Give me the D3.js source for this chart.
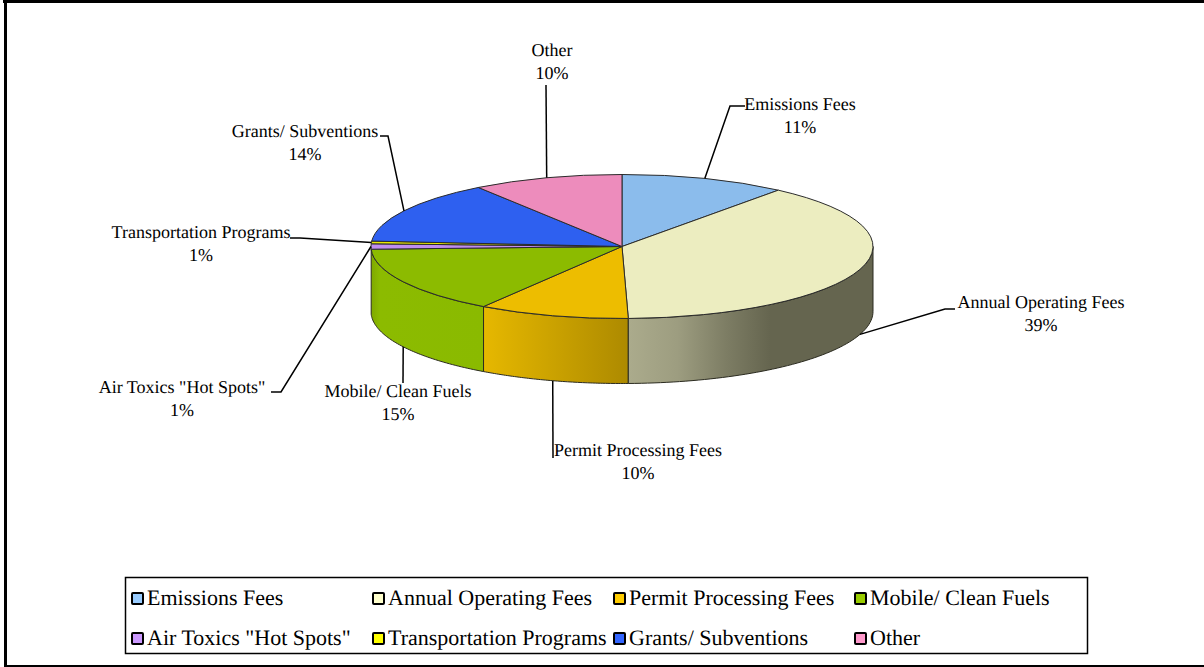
<!DOCTYPE html>
<html lang="en">

<head>
  <meta charset="UTF-8">
  <title>Revenue Sources</title>
  <script src="https://d3js.org/d3.v7.min.js"></script>
  <style type="text/css">
    html, body {
      margin: 0;
      padding: 0;
      background: white;
    }

    svg {
      display: block;
    }

    text {
      font-family: "Liberation Serif", serif;
      fill: black;
      text-rendering: geometricPrecision;
    }

    .label {
      font-size: 18px;
      text-anchor: middle;
    }

    .legend_text {
      font-size: 22px;
    }
  </style>
</head>

<body>
  <svg width="1204" height="667"></svg>
  <script type="text/javascript">
    // Data
    const categories = ["Emissions Fees", "Annual Operating Fees", "Permit Processing Fees", "Mobile/ Clean Fuels",
      "Air Toxics \"Hot Spots\"", "Transportation Programs", "Grants/ Subventions", "Other"];
    const values = [10.7, 38.9, 9.7, 15.1, 1.2, 0.6, 14.1, 9.7];
    const percentLabels = ["11%", "39%", "10%", "15%", "1%", "1%", "14%", "10%"];

    // Styles
    const topColors = ["#8bbcec", "#ecedc0", "#edbd00", "#8cbb00", "#c08ef0", "#e8e800", "#2e60f0", "#ed8cbc"];
    const legendColors = ["#99ccff", "#ffffcc", "#ffcc00", "#99cc00", "#cc99ff", "#ffff00", "#3366ff", "#ff99cc"];

    // Label layout: centre of the text, elbow of the leader, end of the leader
    const labelCenters = [[800, 104], [1041, 302], [638, 450], [398, 391], [182, 387], [201, 232], [305, 131], [552, 50]];
    const leaderEnds = [[[730, 106], [745, 106]], [[945, 309], [955, 309]], [[553, 458], [553, 458]], [[403, 383], [403, 383]],
      [[281, 392], [271, 392]], [[300, 238], [290, 238]], [[388, 136], [380, 136]], [[546, 85], [546, 85]]];

    // Pie geometry
    const cx = 622, cy = 246.5, rx = 251, ry = 72, depth = 65;

    let svg = d3.select("svg");
    let defs = svg.append("defs");

    let slices = d3.pie().value(d => d).sort(null)(values);

    const px = a => cx + rx * Math.sin(a);
    const py = a => cy - ry * Math.cos(a);

    // Chart frame: top, left and bottom edges only, the right one is cut off
    svg.append("rect").attr("x", 3).attr("y", 0).attr("width", 1201).attr("height", 3).attr("fill", "black");
    svg.append("rect").attr("x", 4).attr("y", 0).attr("width", 3).attr("height", 667).attr("fill", "black");
    svg.append("rect").attr("x", 4).attr("y", 665).attr("width", 1200).attr("height", 2).attr("fill", "black");

    // Wall gradients for the three slices that show a side
    const wallShades = {
      1: [["0%", "#abab8c"], ["20%", "#9d9d80"], ["40%", "#7d7d64"], ["58%", "#65654f"], ["100%", "#65654f"]],
      2: [["0%", "#e6b800"], ["100%", "#ad8a00"]],
      3: [["0%", "#7fa900"], ["8%", "#8cbb00"], ["100%", "#8aba00"]]
    };

    let wallArea = d3.area().x(a => px(a)).y0(a => py(a)).y1(a => py(a) + depth);

    [3, 2, 1].forEach(function (i) {
      let s = slices[i];
      let a0 = Math.max(s.startAngle, Math.PI / 2);
      let a1 = Math.min(s.endAngle, 3 * Math.PI / 2);
      let angles = d3.range(0, 61).map(k => a0 + (a1 - a0) * k / 60);

      let grad = defs.append("linearGradient")
        .attr("id", "wall" + i)
        .attr("gradientUnits", "userSpaceOnUse")
        .attr("x1", d3.min(angles, px)).attr("x2", d3.max(angles, px))
        .attr("y1", 0).attr("y2", 0);
      wallShades[i].forEach(st => grad.append("stop").attr("offset", st[0]).attr("stop-color", st[1]));

      svg.append("path")
        .attr("class", "wall")
        .attr("d", wallArea(angles))
        .attr("fill", "url(#wall" + i + ")")
        .attr("stroke", "#2b2b20")
        .attr("stroke-width", 1);
    });

    // Top of the pie
    let arc = d3.arc().innerRadius(0).outerRadius(rx);
    svg.append("g")
      .attr("transform", "translate(" + cx + "," + cy + ") scale(1," + (ry / rx) + ")")
      .selectAll("path")
      .data(slices)
      .enter()
      .append("path")
      .attr("d", arc)
      .attr("fill", (d, i) => topColors[i])
      .attr("stroke", "#2b2b2b")
      .attr("stroke-width", 1)
      .attr("vector-effect", "non-scaling-stroke");

    // Leader lines start on the rim of each slice, on the wall bottom if it has one
    let line = d3.line();
    slices.forEach(function (s, i) {
      let mid = (s.startAngle + s.endAngle) / 2;
      let onWall = mid > Math.PI / 2 && mid < 3 * Math.PI / 2;
      let start = [px(mid), py(mid) + (onWall ? depth : 0)];
      svg.append("path")
        .attr("d", line([start].concat(leaderEnds[i])))
        .attr("fill", "none")
        .attr("stroke", "black")
        .attr("stroke-width", 1.5);
    });

    // Labels
    categories.forEach(function (name, i) {
      let t = svg.append("text")
        .attr("class", "label")
        .attr("x", labelCenters[i][0])
        .attr("y", labelCenters[i][1]);
      t.append("tspan").attr("x", labelCenters[i][0]).attr("dy", "0.35em").text(name);
      t.append("tspan").attr("x", labelCenters[i][0]).attr("dy", "22.8").text(percentLabels[i]);
    });

    // Legend
    svg.append("rect").attr("x", 125.5).attr("y", 577.5).attr("width", 962).attr("height", 76)
      .attr("fill", "white").attr("stroke", "black").attr("stroke-width", 1.5);

    let legendX = d3.scalePoint().domain(d3.range(4)).range([131, 854]);
    let legendY = d3.scalePoint().domain(d3.range(2)).range([592, 632]);

    let legend = svg.append("g")
      .selectAll("g")
      .data(categories)
      .enter()
      .append("g")
      .attr("transform", (d, i) => "translate(" + legendX(i % 4) + "," + legendY(Math.floor(i / 4)) + ")");

    legend.append("rect")
      .attr("x", 1).attr("y", 1).attr("width", 11).attr("height", 11).attr("rx", 1)
      .attr("fill", (d, i) => legendColors[i])
      .attr("stroke", "black")
      .attr("stroke-width", 2);

    legend.append("text")
      .attr("class", "legend_text")
      .attr("x", 16)
      .attr("y", 13)
      .text(d => d);
  </script>
</body>

</html>
